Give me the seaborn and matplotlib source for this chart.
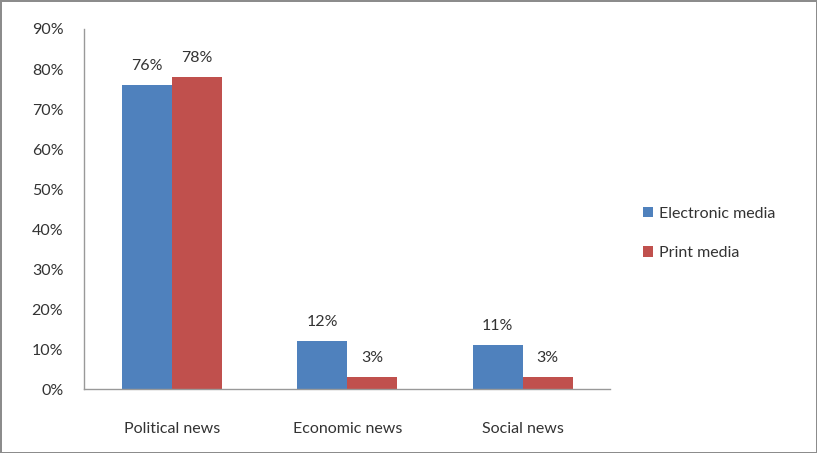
import numpy as np
import pandas as pd
import matplotlib
matplotlib.use("Agg")
import matplotlib.pyplot as plt
import seaborn as sns
from matplotlib.ticker import FuncFormatter, FixedLocator

categories = ["Political news", "Economic news", "Social news"]
electronic = [76, 12, 11]
print_media = [78, 3, 3]
series = ["Electronic media", "Print media"]
colors = ["#4F81BD", "#C0504D"]

df = pd.DataFrame({
    "category": categories * 2,
    "value": electronic + print_media,
    "media": [series[0]] * 3 + [series[1]] * 3,
})

sns.set_style("white")
plt.rcParams['font.family'] = ['Lato', 'DejaVu Sans']

fig = plt.figure(figsize=(8.17, 4.53), dpi=100)
fig.patch.set_edgecolor("#8c8c8c")
fig.patch.set_linewidth(2)
ax = fig.add_axes([0.103, 0.141, 0.644, 0.795])

sns.barplot(data=df, x="category", y="value", hue="media", palette=colors,
            width=0.57, saturation=1, linewidth=0, ax=ax, legend=True)

for cont in ax.containers:
    ax.bar_label(cont, fmt="%d%%", padding=9, fontsize=11.5, color="#333333")

ax.set_ylim(0, 90)
ax.set_xlim(-0.5, 2.5)
ax.set_yticks(np.arange(0, 91, 10))
ax.yaxis.set_major_formatter(FuncFormatter(lambda v, p: f"{int(v)}%"))
ax.xaxis.set_minor_locator(FixedLocator([-0.5, 0.5, 1.5, 2.5]))
ax.tick_params(axis="x", which="major", length=0, pad=24, labelsize=11.5, labelcolor="#333333")
ax.tick_params(axis="x", which="minor", length=5, color="#999999", direction="out")
ax.tick_params(axis="y", length=5, color="#999999", direction="out", labelsize=11.5,
               labelcolor="#333333", pad=10)
ax.set_xlabel("")
ax.set_ylabel("")
for s in ["top", "right"]:
    ax.spines[s].set_visible(False)
for s in ["left", "bottom"]:
    ax.spines[s].set_color("#999999")
    ax.spines[s].set_linewidth(1)

leg = ax.legend(loc="center left", bbox_to_anchor=(0.77, 0.485), bbox_transform=fig.transFigure,
                frameon=False, fontsize=11.5, handlelength=0.6, handleheight=0.6,
                handletextpad=0.4, labelspacing=1.6)
for t in leg.get_texts():
    t.set_color("#333333")

fig.savefig("out.png", dpi=100)
